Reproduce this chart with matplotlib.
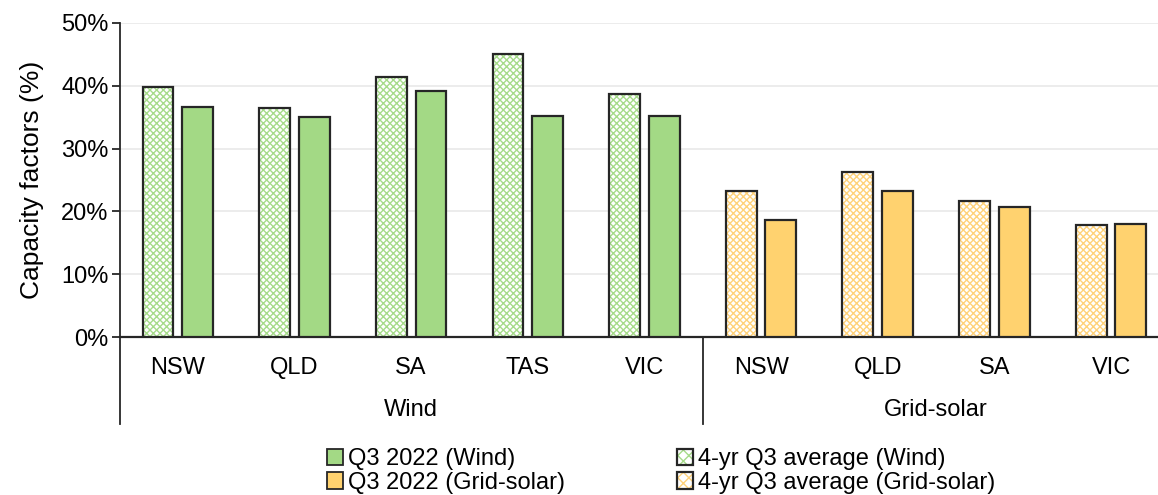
import matplotlib
matplotlib.use("Agg")
import matplotlib.pyplot as plt
from matplotlib.patches import Patch
from matplotlib.lines import Line2D
from matplotlib.legend_handler import HandlerTuple
from matplotlib.ticker import FuncFormatter

plt.rcParams['font.family'] = ['Liberation Sans', 'DejaVu Sans']
plt.rcParams['hatch.linewidth'] = 1.0

# Capacity factors (%) by region
wind_regions = ["NSW", "QLD", "SA", "TAS", "VIC"]
wind_q3_2022 = [36.6, 35.0, 39.2, 35.2, 35.1]
wind_4yr_avg = [39.8, 36.4, 41.4, 45.0, 38.7]

solar_regions = ["NSW", "QLD", "SA", "VIC"]
solar_q3_2022 = [18.6, 23.3, 20.7, 18.0]
solar_4yr_avg = [23.2, 26.2, 21.7, 17.8]

group_names = ["Wind", "Grid-solar"]
y_ticks = [0, 10, 20, 30, 40, 50]

GREEN = "#A3D985"
GREEN_HATCH = "#A6DB8A"
YELLOW = "#FFD26F"
YELLOW_HATCH = "#FFD27A"
EDGE = "#262626"
FS = 17

W, H = 1158, 495
fig = plt.figure(figsize=(W / 100, H / 100), dpi=100)
ax = fig.add_axes([119.5 / W, 1 - 337.3 / H, 1049.9 / W, (337.3 - 22.7) / H])

labels = wind_regions + solar_regions
n_wind = len(wind_regions)
xs = list(range(len(labels)))
bw = 0.265
off = 0.17

def draw_bars(x, avg, q3, face, hatch_col):
    xa = [v - off for v in x]
    xq = [v + off for v in x]
    ax.bar(xa, avg, bw, color="white", edgecolor=hatch_col, hatch="xxxxx",
           linewidth=0, zorder=3)
    ax.bar(xa, avg, bw, fill=False, edgecolor=EDGE, linewidth=1.6, zorder=4)
    ax.bar(xq, q3, bw, color=face, edgecolor=EDGE, linewidth=1.6, zorder=4)

draw_bars(xs[:n_wind], wind_4yr_avg, wind_q3_2022, GREEN, GREEN_HATCH)
draw_bars(xs[n_wind:], solar_4yr_avg, solar_q3_2022, YELLOW, YELLOW_HATCH)

ax.set_xlim(-0.5, len(labels) - 0.5)
ax.set_ylim(0, 50)
ax.set_yticks(y_ticks)
ax.yaxis.set_major_formatter(FuncFormatter(lambda v, p: f"{v:.0f}%"))
ax.grid(axis="y", color="#E9E9E9", linewidth=1.2, zorder=0)
ax.set_axisbelow(True)

for s in ("top", "right"):
    ax.spines[s].set_visible(False)
ax.spines["left"].set_color(EDGE)
ax.spines["left"].set_linewidth(1.3)
ax.spines["bottom"].set_color(EDGE)
ax.spines["bottom"].set_linewidth(1.6)

ax.set_xticks(xs)
ax.set_xticklabels(labels, fontsize=FS)
ax.tick_params(axis="x", length=0, pad=14)
ax.tick_params(axis="y", labelsize=FS, length=6, width=1.3, color=EDGE, pad=2,
               direction="out")
ax.set_ylabel("Capacity factors (%)", fontsize=19, labelpad=12)

# Group separators and labels beneath the category axis
trans = ax.get_xaxis_transform()
span = 337.3 - 22.7
y_low = -(424 - 337.3) / span
for xb in (-0.5, n_wind - 0.5):
    ax.add_line(Line2D([xb, xb], [0, y_low], transform=trans, color=EDGE,
                       linewidth=1.3, clip_on=False))
y_grp = -(410 - 337.3) / span
ax.text((n_wind - 1) / 2, y_grp, group_names[0], transform=trans,
        ha="center", va="center", fontsize=FS)
ax.text((n_wind + len(labels) - 1) / 2, y_grp, group_names[1], transform=trans,
        ha="center", va="center", fontsize=FS)

# Legend
def hatched(hatch_col):
    return (Patch(facecolor="white", edgecolor=hatch_col, hatch="xxx", linewidth=0),
            Patch(fill=False, edgecolor=EDGE, linewidth=1.6))

handles = [Patch(facecolor=GREEN, edgecolor=EDGE, linewidth=1.3),
           Patch(facecolor=YELLOW, edgecolor=EDGE, linewidth=1.3),
           hatched(GREEN_HATCH), hatched(YELLOW_HATCH)]
leg_labels = ["Q3 2022 (Wind)", "Q3 2022 (Grid-solar)",
              "4-yr Q3 average (Wind)", "4-yr Q3 average (Grid-solar)"]
fig.legend(handles, leg_labels, ncol=2, loc="center",
           bbox_to_anchor=(661 / W, 1 - 471 / H), frameon=False, fontsize=FS,
           handlelength=0.7, handleheight=0.7, handletextpad=0.2,
           columnspacing=4.75, labelspacing=0.08,
           handler_map={tuple: HandlerTuple(ndivide=1, pad=0)})

fig.savefig("out.png", dpi=100)
